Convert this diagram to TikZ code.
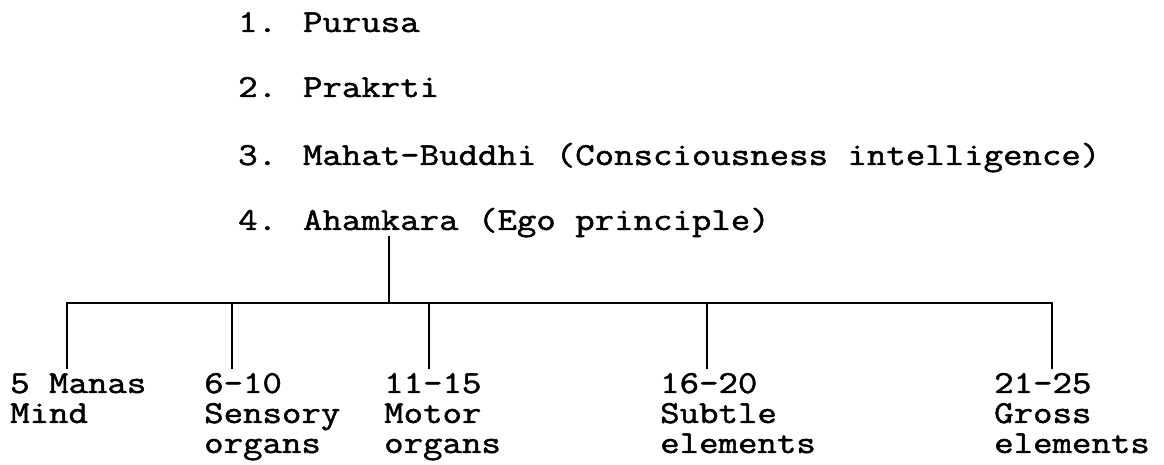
\documentclass[tikz,border=0pt]{standalone}
\usepackage{fontspec}
\newfontfamily\tw{Latin Modern Mono}[FakeStretch=1.18,FakeBold=1.5]
\begin{document}
\begin{tikzpicture}[x=1pt,y=1pt,
  lbl/.style={inner sep=0pt, anchor=base west, font=\tw\fontsize{32}{30}\selectfont},
  conn/.style={line width=1.8pt, line cap=rect}]
\useasboundingbox (0,0) rectangle (1164,465);
% list of principles
\node[lbl] (p1) at (238,433) {1. Purusa};
\node[lbl] (p2) at (238,368) {2. Prakrti};
\node[lbl] (p3) at (238,300) {3. Mahat-Buddhi (Consciousness intelligence)};
\node[lbl] (p4) at (238,235) {4. Ahamkara (Ego principle)};
% evolutes
\node[lbl] (m5)  at (10,72)  {\begin{tabular}[t]{@{}l@{}}5 Manas\\Mind\end{tabular}};
\node[lbl] (m6)  at (204,72) {\begin{tabular}[t]{@{}l@{}}6-10\\Sensory\\organs\end{tabular}};
\node[lbl] (m11) at (384,72) {\begin{tabular}[t]{@{}l@{}}11-15\\Motor\\organs\end{tabular}};
\node[lbl] (m16) at (660,72) {\begin{tabular}[t]{@{}l@{}}16-20\\Subtle\\elements\end{tabular}};
\node[lbl] (m21) at (994,72) {\begin{tabular}[t]{@{}l@{}}21-25\\Gross\\elements\end{tabular}};
% connectors
\coordinate (top) at (389,228);
\coordinate (hub) at (389,162);
\coordinate (b5)  at (67,162);
\coordinate (b6)  at (232,162);
\coordinate (b11) at (429,162);
\coordinate (b16) at (707,162);
\coordinate (b21) at (1052,162);
\draw[conn] (top) -- (hub);
\draw[conn] (b5) -- (b21);
\foreach \b/\m in {b5/m5,b6/m6,b11/m11,b16/m16,b21/m21}
  \draw[conn] (\b) -- ([yshift=4pt]\m.north -| \b);
\end{tikzpicture}
\end{document}
